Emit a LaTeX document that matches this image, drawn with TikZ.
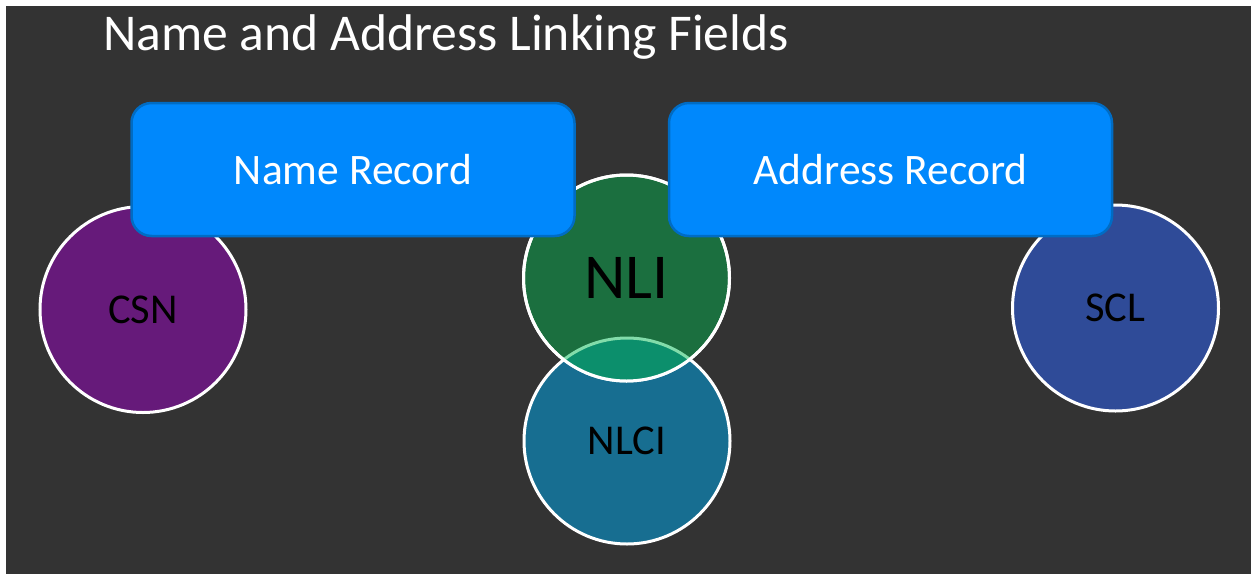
\documentclass[tikz,border=0pt]{standalone}
\usepackage{fontspec}
\setmainfont{Carlito}
\definecolor{bgdark}{RGB}{51,51,51}
\definecolor{boxfill}{RGB}{0,136,252}
\definecolor{boxedge}{RGB}{0,108,196}
\definecolor{csnpurple}{RGB}{102,26,122}
\definecolor{nligreen}{RGB}{27,111,63}
\definecolor{nlciteal}{RGB}{23,110,145}
\definecolor{sclblue}{RGB}{47,75,152}
\definecolor{overlapcol}{RGB}{12,143,108}
\definecolor{lightarc}{RGB}{130,220,170}
\begin{document}
\begin{tikzpicture}[x=1pt,y=-1pt,
  circ/.style={circle, draw=white, line width=3pt, minimum size=206pt, inner sep=0pt,
    font=\fontsize{42.5}{48}\selectfont, text=black},
  rec/.style={draw=boxedge, fill=boxfill, line width=2.5pt, rounded corners=20pt,
    minimum width=443pt, minimum height=133pt, inner sep=0pt, text=white,
    font=\fontsize{43.5}{50}\selectfont},
  titlestyle/.style={anchor=base west, text=white, inner sep=0pt,
    font=\fontsize{51.6}{60}\selectfont}]
\useasboundingbox (0,0) rectangle (1251,574);
\fill[white] (0,0) rectangle (1251,574);
\fill[bgdark] (6,6) rectangle (1251,574);
\node[titlestyle] (title) at (103,50) {Name and Address Linking Fields};
\node[circ, fill=csnpurple] (csn) at (143,309.5) {CSN};
\node[circ, fill=sclblue] (scl) at (1115.5,308) {SCL};
\node[circ, fill=nlciteal] (nlci) at (627,441) {NLCI};
\node[circ, fill=nligreen, font=\fontsize{64}{70}\selectfont] (nli) at (626.5,278) {NLI};
\begin{scope}
  \clip (nli.center) circle (103pt);
  \fill[overlapcol] (nlci.center) circle (103pt);
  \draw[lightarc, line width=3pt] (nlci.center) circle (103pt);
\end{scope}
\draw[white, line width=3pt] (nli.center) circle (103pt);
\node[rec] (name) at (353,169.5) {Name Record};
\node[rec] (addr) at (890.5,169.5) {Address Record};
\end{tikzpicture}
\end{document}
